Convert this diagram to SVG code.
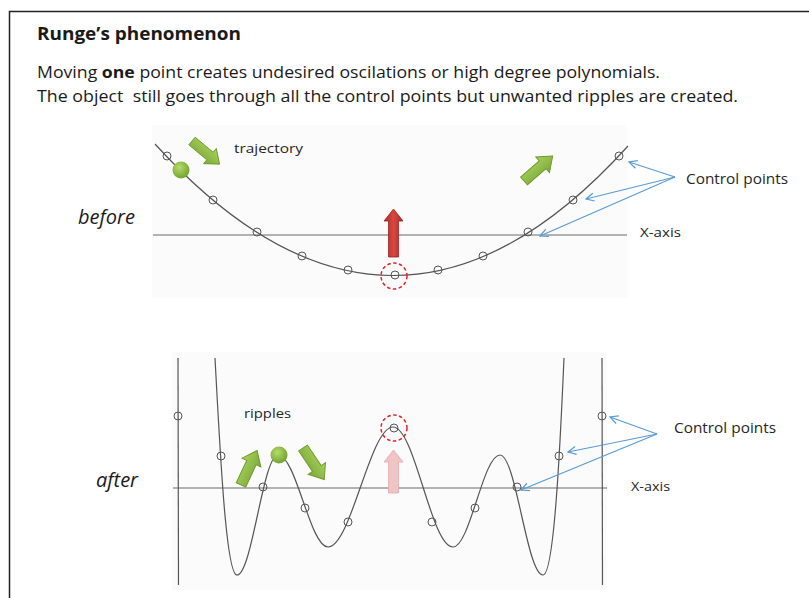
<svg xmlns="http://www.w3.org/2000/svg" width="809" height="598" viewBox="0 0 809 598">
<style>
.t{font-family:"Open Sans","Liberation Sans",sans-serif;fill:#1a1a1a}
.lbl{font-family:"Open Sans","Liberation Sans",sans-serif;fill:#262626}
.curve{fill:none;stroke:#555;stroke-width:1.2}
.axis{stroke:#9a9a9a;stroke-width:1.5}
.cp{fill:none;stroke:#555;stroke-width:1}
.blue{stroke:#5b9bd5;stroke-width:1.2;fill:none;marker-end:url(#open)}
.garrow{fill:url(#gg);stroke:#6f9a2e;stroke-width:1}
.sel{fill:none;stroke:#e8202a;stroke-width:1.5;stroke-dasharray:3.5 2.5}
</style>
<defs>
<marker id="open" viewBox="0 0 10 10" refX="9" refY="5" markerWidth="10" markerHeight="10" markerUnits="userSpaceOnUse" orient="auto">
<path d="M1,1 L9,5 L1,9" fill="none" stroke="#5b9bd5" stroke-width="1.2"/>
</marker>
<linearGradient id="gg" x1="0" y1="0" x2="0" y2="1">
<stop offset="0" stop-color="#a9d15c"/><stop offset="1" stop-color="#7aa83a"/>
</linearGradient>
<linearGradient id="rg" x1="0" y1="0" x2="1" y2="0">
<stop offset="0" stop-color="#a82b25"/><stop offset="0.5" stop-color="#d9473f"/><stop offset="1" stop-color="#a82b25"/>
</linearGradient>
<radialGradient id="ball" cx="0.4" cy="0.35" r="0.7">
<stop offset="0" stop-color="#b5dc6a"/><stop offset="1" stop-color="#6e9e2c"/>
</radialGradient>
<path id="blk" d="M0,-5.5 L26,-5.5 L26,-11 L40,0 L26,11 L26,5.5 L0,5.5 Z"/>
</defs>

<rect width="809" height="598" fill="#fff"/>
<path d="M9.5,598 L9.5,11.5 L809,11.5" fill="none" stroke="#222" stroke-width="1.5"/>

<g id="header">
<text class="t" x="37" y="40" font-size="17" font-weight="bold" textLength="204" lengthAdjust="spacingAndGlyphs">Runge’s phenomenon</text>
<text class="t" x="37" y="78" font-size="15.5" textLength="623" lengthAdjust="spacingAndGlyphs">Moving <tspan font-weight="bold">one</tspan> point creates undesired oscilations or high degree polynomials.</text>
<text class="t" x="37" y="102" font-size="15.5" textLength="701" lengthAdjust="spacingAndGlyphs" xml:space="preserve">The object  still goes through all the control points but unwanted ripples are created.</text>
</g>

<g id="before">
<rect x="152" y="125" width="475" height="173" fill="#fbfbfb"/>
<text class="t" x="78" y="224" font-size="20" font-style="italic">before</text>
<line class="axis" x1="153" y1="235" x2="627" y2="235"/>
<path class="curve" d="M155,144 Q393,406 628,146"/>
<g>
<circle class="cp" cx="167" cy="156" r="4"/>
<circle class="cp" cx="213" cy="200" r="4"/>
<circle class="cp" cx="257" cy="232" r="4"/>
<circle class="cp" cx="302" cy="256" r="4"/>
<circle class="cp" cx="348" cy="270" r="4"/>
<circle class="cp" cx="395" cy="275" r="4"/>
<circle class="cp" cx="438" cy="270" r="4"/>
<circle class="cp" cx="483" cy="256" r="4"/>
<circle class="cp" cx="528" cy="232" r="4"/>
<circle class="cp" cx="573" cy="200" r="4"/>
<circle class="cp" cx="619" cy="156" r="4"/>
</g>
<circle class="sel" cx="394" cy="276" r="13"/>
<circle cx="181" cy="170" r="8.5" fill="url(#ball)"/>
<use href="#blk" class="garrow" transform="translate(192,141) rotate(40) scale(0.9)"/>
<use href="#blk" class="garrow" transform="translate(524,181) rotate(-41) scale(0.95)"/>
<path d="M388.5,257 L388.5,221 L384,221 L393.5,209 L403,221 L398.5,221 L398.5,257 Z" fill="url(#rg)" stroke="#9a2520" stroke-width="0.8"/>
<text class="lbl" x="234" y="153" font-size="13.5" textLength="69" lengthAdjust="spacingAndGlyphs">trajectory</text>
<text class="lbl" x="640" y="236.5" font-size="12" textLength="41" lengthAdjust="spacingAndGlyphs">X-axis</text>
<text class="lbl" x="686" y="184" font-size="14" textLength="102" lengthAdjust="spacingAndGlyphs">Control points</text>
<line class="blue" x1="675" y1="177" x2="629" y2="162"/>
<line class="blue" x1="675" y1="177" x2="586" y2="199"/>
<line class="blue" x1="675" y1="177" x2="540" y2="236"/>
</g>

<g id="after">
<rect x="172" y="352" width="435" height="238" fill="#fbfbfb"/>
<text class="t" x="96" y="487" font-size="20" font-style="italic">after</text>
<line class="axis" x1="173" y1="488" x2="607" y2="488"/>
<line class="curve" x1="178" y1="358" x2="178.5" y2="585"/>
<line class="curve" x1="602" y1="358" x2="602.5" y2="585"/>
<path class="curve" d="M215,358 C220,450 226,575 237,575 C252,575 263,455 278,455 C296,455 310,547 328,547 C351,547 370,427 393,427 C415,427 431,547 453,547 C470,547 483,455 500,455 C516,455 527,575 543,575 C554,575 560,450 564,358"/>
<g>
<circle class="cp" cx="178" cy="416" r="4"/>
<circle class="cp" cx="221" cy="456" r="4"/>
<circle class="cp" cx="263" cy="487" r="4"/>
<circle class="cp" cx="305" cy="508" r="4"/>
<circle class="cp" cx="348" cy="522" r="4"/>
<circle class="cp" cx="394" cy="428" r="4"/>
<circle class="cp" cx="432" cy="522" r="4"/>
<circle class="cp" cx="475" cy="508" r="4"/>
<circle class="cp" cx="517" cy="487" r="4"/>
<circle class="cp" cx="559" cy="456" r="4"/>
<circle class="cp" cx="602" cy="416" r="4"/>
</g>
<circle class="sel" cx="394" cy="428" r="13"/>
<circle cx="279" cy="455" r="8.5" fill="url(#ball)"/>
<use href="#blk" class="garrow" transform="translate(241,485) rotate(-65) scale(0.95)"/>
<use href="#blk" class="garrow" transform="translate(303,448) rotate(56) scale(0.95)"/>
<path d="M388.5,493 L388.5,462 L384,462 L393.5,450 L403,462 L398.5,462 L398.5,493 Z" fill="#f0c4c4" stroke="#e6aaaa" stroke-width="0.8"/>
<text class="lbl" x="244" y="418" font-size="13.5" textLength="47" lengthAdjust="spacingAndGlyphs">ripples</text>
<text class="lbl" x="631" y="490.5" font-size="12" textLength="39" lengthAdjust="spacingAndGlyphs">X-axis</text>
<text class="lbl" x="674" y="433" font-size="14" textLength="102" lengthAdjust="spacingAndGlyphs">Control points</text>
<line class="blue" x1="657" y1="434" x2="610" y2="417"/>
<line class="blue" x1="657" y1="434" x2="568" y2="452"/>
<line class="blue" x1="657" y1="434" x2="521" y2="490"/>
</g>
</svg>
